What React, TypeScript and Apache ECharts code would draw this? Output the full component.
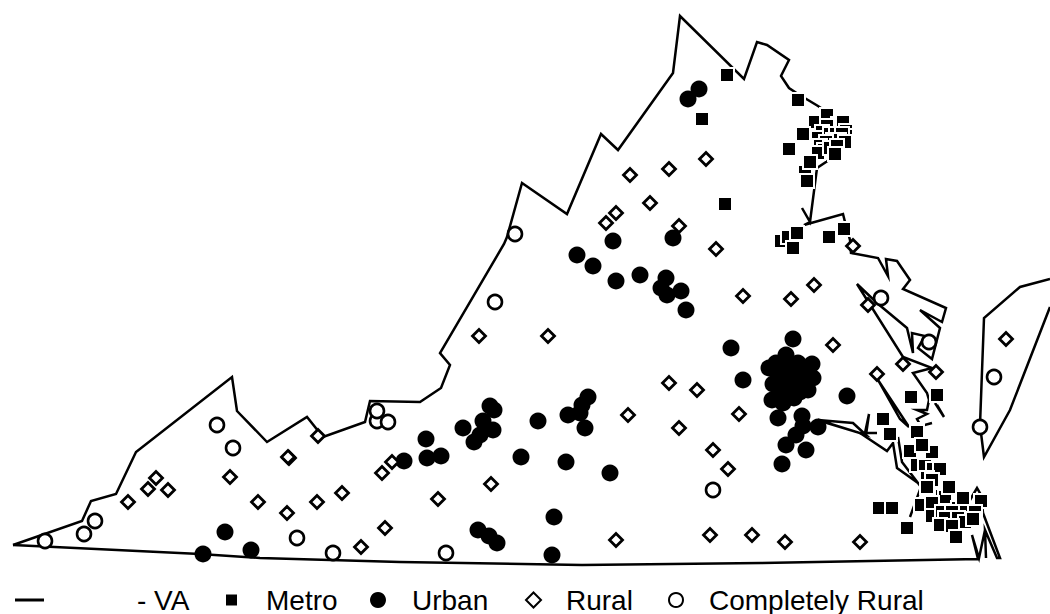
import React, { useEffect, useRef } from "react";
import * as echarts from "echarts";

type P = [number, number];

const border: P[] = [
  [13,545],[82,521],[91,501],[116,494],[136,452],[232,377],[237,411],[267,442],[307,417],[323,437],[365,422],[370,401],
  [420,402],[441,388],[450,365],[440,353],[504,244],[507,237],[522,183],[567,214],[601,134],[618,150],[673,73],[680,16],
  [744,79],[757,42],[767,45],[789,60],[781,76],[789,88],[798,94],[818,106],[830,114],[838,122],[846,132],[846,146],[832,158],[817,168],
  [810,222],[802,208],[810,222],[804,225],[843,214],[845,222],[850,240],[851,253],[878,258],[888,276],[886,259],[897,261],
  [910,280],[903,289],[946,308],[942,322],[920,310],[940,328],[932,359],[918,348],[925,336],[912,333],[913,353],[907,328],
  [877,303],[857,284],[903,357],[932,368],[913,373],[927,393],[929,400],[927,410],[917,410],[927,414],[917,419],[921,426],[932,423],
];
const southBorder: P[] = [
  [13,545],[200,554],[260,558],[400,562],[582,565],[761,563],[978,559],[972,535],[979,558],[985,530],[986,558],[985,530],[997,558],[1000,558],[983,513],
];
const peninsulaInlet: P[] = [[878,380],[900,419],[909,427],[878,380]];
const smallInlet: P[] = [[935,403],[944,417],[937,405]];
const jamesRiver: P[] = [[818,420],[853,423],[866,435],[818,420],[827,423],[866,435],[869,414],[865,433],[877,433]];
const southRiver: P[] = [[860,433],[887,451],[893,443],[897,468],[918,483],[921,487],[910,517],[921,487],[902,462],[898,437]];
const tidewater: P[] = [[970,500],[977,488],[981,495],[983,513]];
const easternShore: P[] = [[980,425],[984,318],[1020,287],[1050,279]];
const easternShoreEast: P[] = [[1050,307],[1010,410],[984,457],[980,425]];

const metro: P[] = [
  [727,75],[702,119],[725,204],[798,100],[815,122],[803,134],[789,149],[827,115],
  [838,124],[843,122],[827,126],[822,132],[846,131],[846,136],[818,138],[830,134],[836,134],[842,134],[833,140],[839,140],[845,142],[826,142],
  [820,146],[824,150],[818,153],[830,148],[837,146],[835,154],
  [805,172],[810,162],[807,181],[844,229],[829,237],[781,241],[788,237],[797,233],[793,248],
  [911,397],[937,395],[883,419],[890,434],[917,430],[910,451],[917,432],[932,452],[922,445],
  [917,465],[925,466],[933,469],[940,469],[927,478],[932,480],[927,487],[942,496],[945,497],[949,487],[921,505],[932,503],[879,508],[892,508],
  [958,508],[965,509],[963,498],[981,501],[975,512],[932,516],[942,512],[952,512],[945,518],[958,518],[965,522],[973,519],[940,525],[952,526],[907,528],[956,537],
];
const urban: P[] = [
  [699,89],[688,99],[613,241],[673,238],[577,255],[593,266],[616,281],[640,275],[666,278],[661,288],[681,291],[667,295],[686,310],
  [731,348],[743,380],[793,339],[847,396],[786,355],[769,368],[776,363],[798,363],[812,364],[790,363],[813,378],[808,390],[773,384],
  [772,400],[783,403],[794,398],[787,373],[793,377],[787,387],[800,380],[780,390],[780,376],[797,370],[805,372],[778,378],[800,392],[790,395],
  [778,418],[802,416],[803,426],[796,435],[818,427],[786,445],[806,450],[782,464],
  [490,406],[494,410],[483,421],[493,430],[480,435],[474,442],[463,428],[426,439],[441,456],[427,458],[404,461],[538,421],[521,457],[566,462],[610,473],
  [568,415],[580,413],[585,428],[582,405],[588,397],[478,530],[489,536],[497,543],[554,517],[552,555],[225,532],[251,550],[203,554],
];
const rural: P[] = [
  [128,502],[148,489],[156,478],[168,490],[230,477],[258,502],[287,513],[317,502],[342,493],[289,458],[288,457],[318,436],[382,473],[392,462],[385,528],[361,547],
  [479,336],[548,336],[630,175],[669,169],[706,159],[650,203],[616,213],[606,223],[679,226],[716,249],[743,296],[791,299],[814,285],[833,345],[853,246],[868,305],
  [903,364],[936,372],[877,374],[1006,339],[669,383],[697,390],[628,415],[739,414],[679,428],[713,450],[728,469],[491,484],[438,499],[616,540],[710,535],[752,535],[785,542],[860,542],
];
const completelyRural: P[] = [
  [45,541],[84,534],[95,521],[217,425],[233,448],[297,538],[333,553],[446,553],[377,421],[388,422],[377,411],[515,234],[495,302],[881,298],[929,342],[994,377],[980,427],[713,490],
];

const borderSegments: P[][] = [border, southBorder, peninsulaInlet, smallInlet, jamesRiver, southRiver, tidewater, easternShore, easternShoreEast];
const legendFont = { fontFamily: "Liberation Sans", fontSize: 28, color: "#000" };

export default function App() {
  const ref = useRef<HTMLDivElement>(null);
  useEffect(() => {
    const chart = echarts.init(ref.current!, undefined, { renderer: "svg" });
    const legendItem = (name: string, left: number, pad: number, size: number, extra: any = {}) => ({
      show: true, data: [name], left, top: 586, itemWidth: size, itemHeight: size, padding: 0,
      selectedMode: false,
      textStyle: { ...legendFont, padding: [0, 0, 0, pad] }, ...extra,
    });
    chart.setOption({
      animation: false,
      backgroundColor: "#fff",
      grid: { left: 0, right: 0, top: 0, bottom: 0 },
      xAxis: { type: "value", min: 0, max: 1050, show: false },
      yAxis: { type: "value", min: 0, max: 614, inverse: true, show: false },
      legend: [
        legendItem("VA", 15, 88, 3, { itemWidth: 29, itemHeight: 3, icon: "rect", formatter: () => "- VA" }),
        legendItem("Metro", 224, 23, 13),
        legendItem("Urban", 370, 21, 16),
        legendItem("Rural", 525, 20, 15),
        legendItem("Completely Rural", 668, 21, 14),
      ],
      series: [
        ...borderSegments.map((seg) => ({
          name: "VA", type: "line", data: seg, symbol: "none", z: 1,
          lineStyle: { color: "#000", width: 2.5, join: "miter", miterLimit: 6 },
          itemStyle: { color: "#000" },
        })),
        {
          name: "Metro", type: "scatter", data: metro, symbol: "rect", symbolSize: 14, z: 2,
          itemStyle: { color: "#000", borderColor: "#fff", borderWidth: 2, opacity: 1 },
        },
        {
          name: "Urban", type: "scatter", data: urban, symbol: "circle", symbolSize: 17, z: 3,
          itemStyle: { color: "#000", opacity: 1 },
        },
        {
          name: "Rural", type: "scatter", data: rural, symbol: "diamond", symbolSize: 13, z: 4,
          itemStyle: { color: "#fff", borderColor: "#000", borderWidth: 2.8, opacity: 1 },
        },
        {
          name: "Completely Rural", type: "scatter", data: completelyRural, symbol: "circle", symbolSize: 14, z: 5,
          itemStyle: { color: "#fff", borderColor: "#000", borderWidth: 2.6, opacity: 1 },
        },
      ],
    });
    return () => chart.dispose();
  }, []);
  return <div ref={ref} style={{ position: "absolute", left: 0, top: 0, width: 1050, height: 614 }} />;
}
